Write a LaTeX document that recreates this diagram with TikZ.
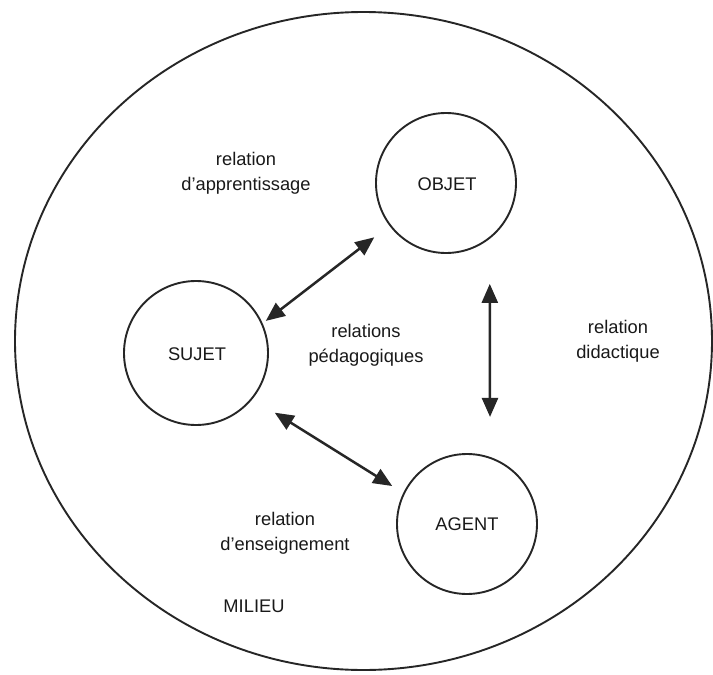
\documentclass[tikz,border=0pt]{standalone}
\usepackage{fontspec}
\setmainfont{Liberation Sans}
\usetikzlibrary{arrows.meta,shapes.geometric}
\begin{document}
\begin{tikzpicture}[x=1pt,y=-1pt,
  ring/.style={draw=black!85,line width=1.9pt,circle,inner sep=0pt},
  lbl/.style={align=center,text=black!90,font=\fontsize{18.3}{25}\selectfont},
  rel/.style={draw=black!85,line width=2.5pt,{Triangle[length=19pt,width=16pt]}-{Triangle[length=19pt,width=16pt]}}]
\useasboundingbox (0,0) rectangle (713,675);
\fill[white] (0,0) rectangle (713,675);
\node[draw=black!85,line width=1.9pt,ellipse,minimum width=697pt,minimum height=658pt,inner sep=0pt] (milieu) at (363.5,341) {};
\node[ring,minimum size=140pt] (objet) at (446,183) {};
\node[ring,minimum size=144pt] (sujet) at (196,353) {};
\node[ring,minimum size=140pt] (agent) at (467,524) {};
\node[lbl] (tobjet) at (447,184) {OBJET};
\node[lbl] (tsujet) at (197,354) {SUJET};
\node[lbl] (tagent) at (467,524) {AGENT};
\node[lbl] (lapp) at (246,173) {relation\\d’apprentissage};
\node[lbl] (lped) at (366,345) {relations\\pédagogiques};
\node[lbl] (ldid) at (618,341) {relation\\didactique};
\node[lbl] (lens) at (285,533) {relation\\d’enseignement};
\node[lbl] (lmil) at (254,606) {MILIEU};
\draw[rel,shorten <=4pt,shorten >=19pt] (sujet.24) -- (objet.217);
\draw[rel,shorten <=26pt,shorten >=13pt] (sujet.321) -- (agent.154);
\draw[rel,shorten <=45pt,shorten >=40pt] (objet.308) -- (agent.71.7);
\end{tikzpicture}
\end{document}
